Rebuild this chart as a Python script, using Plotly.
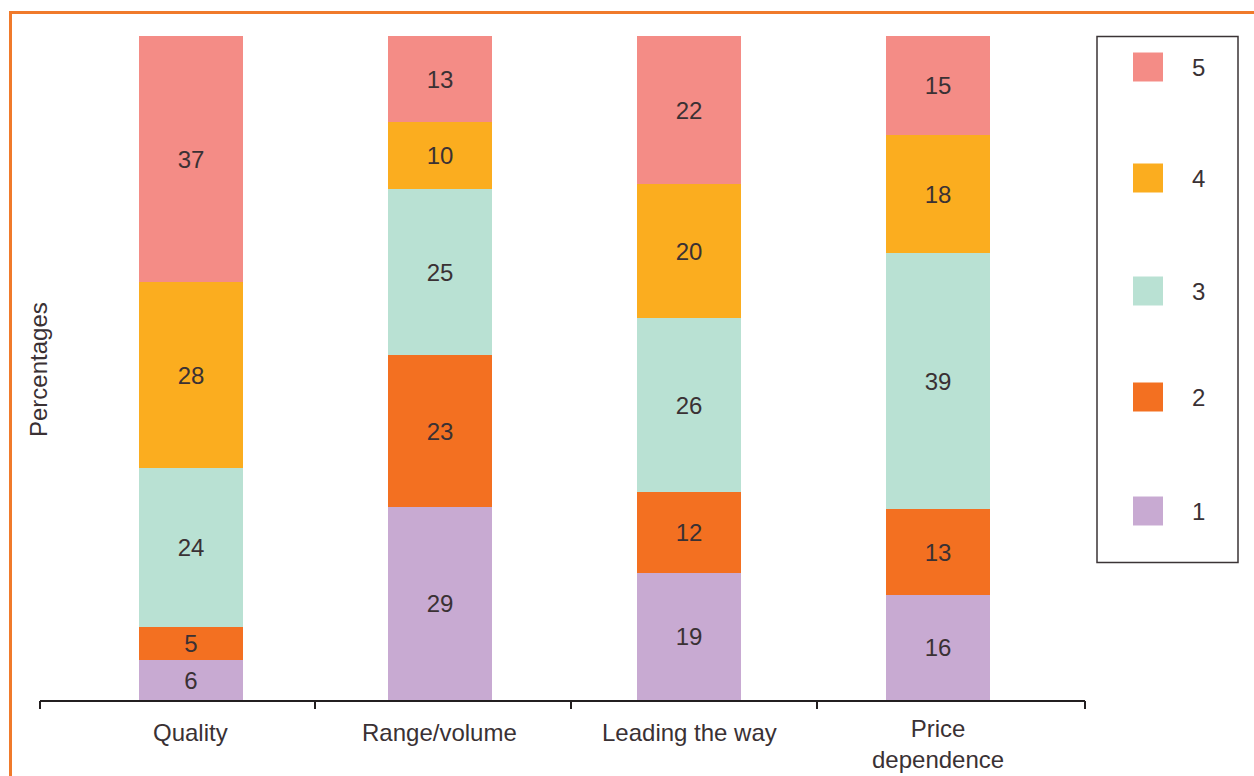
import plotly.graph_objects as go

# Survey response shares (percent) per aspect, by rating 1-5
categories = ["Quality", "Range/volume", "Leading the way", "Price<br>dependence"]
ratings = ["1", "2", "3", "4", "5"]
values = {
    "1": [6, 29, 19, 16],
    "2": [5, 23, 12, 13],
    "3": [24, 25, 26, 39],
    "4": [28, 10, 20, 18],
    "5": [37, 13, 22, 15],
}
colors = {
    "1": "#C8AAD2",
    "2": "#F37021",
    "3": "#B9E1D3",
    "4": "#FBAD1F",
    "5": "#F48C86",
}

TEXT = "#3a3134"
FONT = "Liberation Sans, Arial, sans-serif"
FS = 24
W, H = 1254, 776
ML, MR, MT, MB = 40, 169, 36, 76
PW, PH = W - ML - MR, H - MT - MB


def px_x(p):
    return (p - ML) / PW


def px_y(p):
    return (H - MB - p) / PH


fig = go.Figure()
for r in ratings:
    fig.add_trace(go.Bar(
        x=categories, y=values[r], name=r,
        marker=dict(color=colors[r], line=dict(width=0)),
        width=0.42,
        text=[str(v) for v in values[r]],
        textposition="inside", insidetextanchor="middle",
        textfont=dict(size=FS, color=TEXT, family=FONT),
        textangle=0, constraintext="none",
        showlegend=False,
    ))

# empty trace so the overlay axis carrying the boundary ticks is drawn
fig.add_trace(go.Scatter(x=[], y=[], xaxis="x2", showlegend=False,
                         hoverinfo="skip"))

xr = [-0.606, 3.59]
fig.update_layout(
    width=W, height=H,
    margin=dict(l=ML, r=MR, t=MT, b=MB, autoexpand=False),
    paper_bgcolor="white", plot_bgcolor="white",
    barmode="stack", barnorm="percent", bargap=0,
    font=dict(family=FONT, size=FS, color=TEXT),
    xaxis=dict(
        type="category", range=xr, showgrid=False, zeroline=False,
        showline=True, linecolor="#231f20", linewidth=1.5,
        ticks="", showticklabels=False, automargin=False,
    ),
    xaxis2=dict(
        overlaying="x", anchor="y", range=xr, showgrid=False,
        zeroline=False, showline=False, showticklabels=False,
        ticks="outside", ticklen=8, tickwidth=1.5, tickcolor="#231f20",
        tickmode="array", tickvals=[-0.606, 0.498, 1.526, 2.514, 3.59],
        automargin=False,
    ),
    yaxis=dict(
        range=[0, 100], showgrid=False, zeroline=False, showline=False,
        showticklabels=False, ticks="", automargin=False,
    ),
)

shapes = []
annotations = []

# category labels under the axis (multi-line labels grow downwards)
LINE = 1.3 * FS
for i, cat in enumerate(categories):
    n = len(cat.split("<br>"))
    annotations.append(dict(text=cat, xref="x", yref="paper",
                            x=i, y=px_y(732 - 4 + (n - 1) * LINE / 2 + (4 if n == 1 else 0)),
                            showarrow=False, xanchor="center", yanchor="middle",
                            font=dict(size=FS, color=TEXT)))

# orange frame (top and left edges)
shapes.append(dict(type="line", xref="paper", yref="paper",
                   x0=px_x(9), x1=px_x(W + 5), y0=px_y(12.5), y1=px_y(12.5),
                   line=dict(color="#F07A2B", width=3)))
shapes.append(dict(type="line", xref="paper", yref="paper",
                   x0=px_x(10.5), x1=px_x(10.5), y0=px_y(11), y1=px_y(H + 5),
                   line=dict(color="#F07A2B", width=3)))

# y-axis title
annotations.append(dict(text="Percentages", xref="paper", yref="paper",
                        x=px_x(38), y=px_y(370), textangle=-90,
                        showarrow=False, font=dict(size=FS, color=TEXT),
                        xanchor="center", yanchor="middle"))

# legend box with swatches (5 at top down to 1)
shapes.append(dict(type="rect", xref="paper", yref="paper",
                   x0=px_x(1097), x1=px_x(1238), y0=px_y(36.5), y1=px_y(562.5),
                   line=dict(color="#3b3436", width=1.5), fillcolor="white"))
legend_y = {"5": 67, "4": 178, "3": 291, "2": 397, "1": 511}
for r in ratings:
    cy = legend_y[r]
    shapes.append(dict(type="rect", xref="paper", yref="paper",
                       x0=px_x(1133), x1=px_x(1163),
                       y0=px_y(cy - 14.5), y1=px_y(cy + 14.5),
                       line=dict(width=0), fillcolor=colors[r]))
    annotations.append(dict(text=r, xref="paper", yref="paper",
                            x=px_x(1198), y=px_y(cy), showarrow=False,
                            xanchor="center", yanchor="middle",
                            font=dict(size=FS, color=TEXT)))

fig.update_layout(shapes=shapes, annotations=annotations)
fig.write_html("out.html")
